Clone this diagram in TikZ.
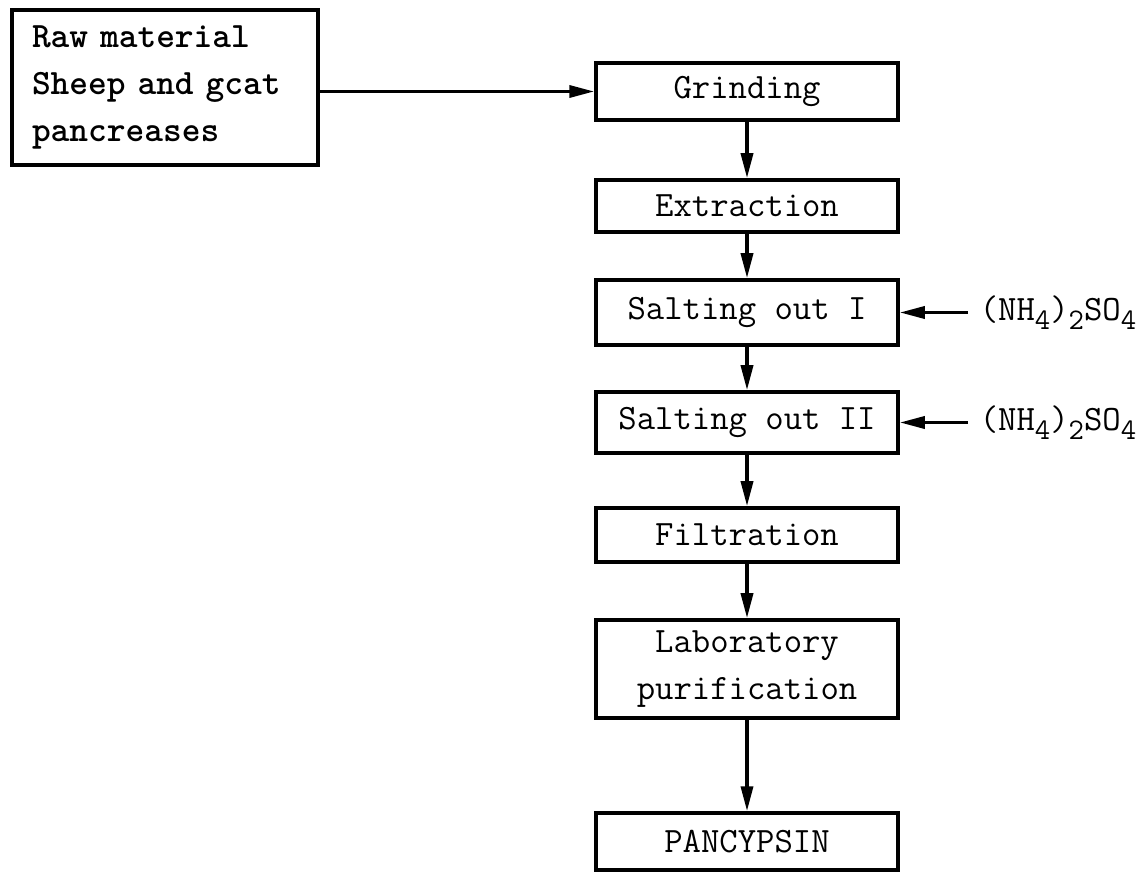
\documentclass[tikz,border=0pt]{standalone}
\usepackage{fontspec}
\usetikzlibrary{arrows.meta}
\usetikzlibrary{positioning}

\newcommand{\lowdigit}[1]{\raisebox{-0.55ex}{\fontsize{17}{17}\selectfont#1}}

\begin{document}
\begin{tikzpicture}[line width=2pt,>={Triangle[length=0.5cm,width=0.24cm]},
    every node/.style={font=\ttfamily\fontsize{20.3}{27}\selectfont},
    stage/.style={draw,minimum width=6.04cm,inner sep=0pt,align=center}]
    \useasboundingbox (0,0) rectangle (22.9,-17.56);

    \node[draw,minimum width=6.12cm,minimum height=3.1cm,text width=5.32cm,
          inner xsep=0.4cm,align=left,font=\ttfamily\bfseries\fontsize{20.3}{27}\selectfont]
          (raw) at (3.3,-1.75) {Raw material\\Sheep and gcat\\pancreases};
    \node[stage,minimum height=1.14cm] (grinding) at (14.94,-1.83) {Grinding};
    \node[stage,minimum height=1.04cm] (extraction) at (14.94,-4.12) {Extraction};
    \node[stage,minimum height=1.3cm] (salt-i) at (14.94,-6.25) {Salting out I};
    \node[stage,minimum height=1.22cm] (salt-ii) at (14.94,-8.45) {Salting out II};
    \node[stage,minimum height=1.08cm] (filtration) at (14.94,-10.7) {Filtration};
    \node[stage,minimum height=1.96cm] (lab) at (14.94,-13.38) {Laboratory\\purification};
    \node[stage,minimum height=1.14cm] (pancypsin) at (14.94,-16.83) {PANCYPSIN};
    \node[anchor=west,inner xsep=0.2cm] (sulfate-i) at (19.36,-6.25)
        {(NH\lowdigit{4})\lowdigit{2}SO\lowdigit{4}};
    \node[anchor=west,inner xsep=0.2cm] (sulfate-ii) at (19.36,-8.45)
        {(NH\lowdigit{4})\lowdigit{2}SO\lowdigit{4}};

    \draw[->] (raw.east |- grinding) -- (grinding.west);
    \draw[->] (grinding) -- (extraction);
    \draw[->] (extraction) -- (salt-i);
    \draw[->] (salt-i) -- (salt-ii);
    \draw[->] (salt-ii) -- (filtration);
    \draw[->] (filtration) -- (lab);
    \draw[->] (lab) -- (pancypsin);
    \draw[->] (sulfate-i) -- (salt-i);
    \draw[->] (sulfate-ii) -- (salt-ii);
\end{tikzpicture}
\end{document}
